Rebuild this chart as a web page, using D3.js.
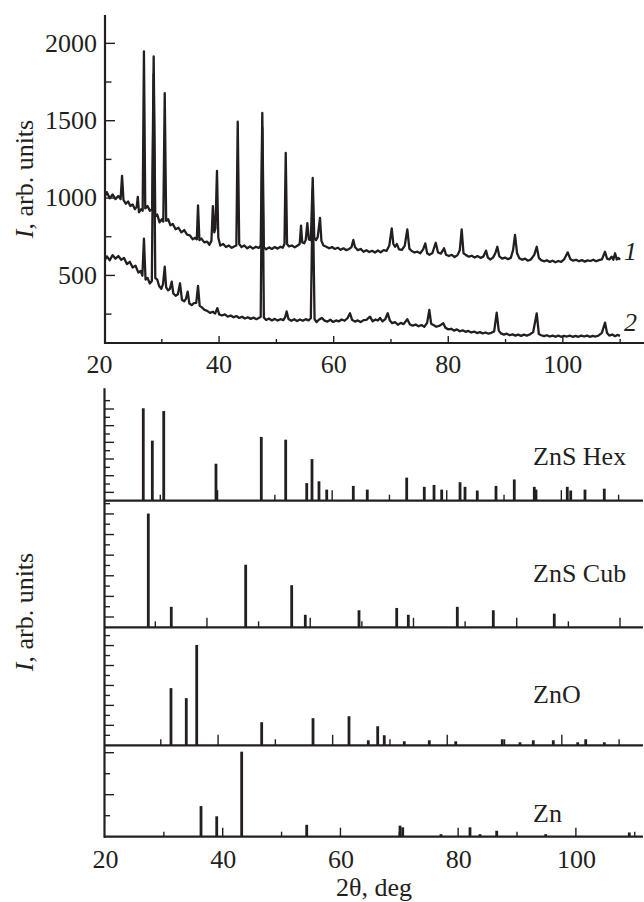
<!DOCTYPE html>
<html>
<head>
<meta charset="utf-8">
<script src="https://cdn.jsdelivr.net/npm/d3@7"></script>
<style>
  body { margin: 0; background: #fff; }
  svg text { font-family: "Liberation Serif", "Times New Roman", serif; fill: #231f20; }
</style>
</head>
<body>
<svg id="chart" width="644" height="902"></svg>
<script>
// measured pattern, sample 1 (2theta, I)
const curve1 = [[20.2,1010],[20.5,1035],[21.0,995],[21.5,1020],[22.0,990],[22.5,1010],[22.9,990],[23.15,1140],[23.4,985],[23.8,960],[24.2,975],[24.6,945],[25.0,955],[25.4,925],[25.7,940],[25.9,1005],[26.1,905],[26.5,925],[26.75,915],[26.97,1945],[27.2,930],[27.6,945],[28.0,915],[28.4,925],[28.67,1912],[28.95,880],[29.3,890],[29.7,840],[30.1,860],[30.35,845],[30.6,1675],[30.85,850],[31.2,860],[31.6,820],[32.0,830],[32.5,795],[33.0,805],[33.5,775],[34.0,790],[34.5,760],[35.0,755],[35.5,730],[35.9,740],[36.2,730],[36.41,950],[36.65,725],[37.0,735],[37.5,710],[38.0,715],[38.4,695],[38.75,720],[39.0,945],[39.25,775],[39.45,800],[39.72,1173],[39.95,740],[40.3,690],[40.8,700],[41.3,680],[41.8,690],[42.3,675],[42.8,685],[43.1,690],[43.34,1490],[43.6,700],[44.0,680],[44.5,690],[45.0,672],[45.5,684],[46.0,670],[46.5,682],[47.0,674],[47.35,690],[47.63,1547],[47.9,680],[48.3,665],[48.8,678],[49.3,668],[49.8,680],[50.3,670],[50.8,682],[51.2,676],[51.5,700],[51.72,1288],[51.95,700],[52.3,684],[52.8,690],[53.3,678],[53.8,690],[54.15,700],[54.39,818],[54.6,710],[54.95,705],[55.2,725],[55.49,835],[55.75,730],[56.1,725],[56.43,1127],[56.7,740],[57.0,725],[57.3,745],[57.7,868],[57.95,720],[58.3,690],[58.8,682],[59.3,672],[59.8,680],[60.3,668],[60.8,676],[61.3,662],[61.8,672],[62.3,660],[62.8,668],[63.2,680],[63.52,726],[63.8,680],[64.3,660],[64.8,668],[65.3,650],[65.8,660],[66.3,648],[66.8,656],[67.3,645],[67.8,658],[68.3,646],[68.8,660],[69.3,655],[69.8,690],[70.22,801],[70.5,700],[70.8,682],[71.1,700],[71.5,665],[72.0,662],[72.5,690],[72.94,794],[73.3,670],[73.7,655],[74.2,645],[74.7,650],[75.2,640],[75.7,665],[76.08,704],[76.4,640],[76.8,630],[77.3,640],[77.9,708],[78.3,645],[78.8,638],[79.35,672],[79.7,630],[80.2,622],[80.7,630],[81.2,616],[81.7,628],[82.1,660],[82.43,794],[82.75,640],[83.2,628],[83.7,618],[84.2,624],[84.7,612],[85.2,622],[85.7,610],[86.2,618],[86.68,657],[87.0,612],[87.4,600],[87.9,612],[88.3,640],[88.65,682],[89.0,620],[89.5,605],[90.0,612],[90.5,602],[91.0,610],[91.4,660],[91.74,758],[92.1,640],[92.5,608],[93.0,598],[93.5,605],[94.0,592],[94.5,600],[95.1,630],[95.53,682],[95.9,610],[96.3,596],[96.8,588],[97.3,595],[97.8,584],[98.3,592],[98.8,582],[99.3,590],[99.8,584],[100.3,600],[100.94,646],[101.4,602],[101.9,592],[102.4,598],[102.9,588],[103.4,596],[103.9,586],[104.4,594],[104.9,590],[105.4,598],[105.9,588],[106.4,596],[106.9,600],[107.45,650],[107.8,605],[108.2,600],[108.6,618],[108.9,598],[109.2,640],[109.5,600],[109.8,610],[110.07,598]];

// measured pattern, sample 2
const curve2 = [[20.2,600],[20.5,620],[21.0,595],[21.5,628],[22.0,605],[22.5,622],[23.0,598],[23.5,610],[24.0,570],[24.5,585],[25.0,548],[25.5,560],[26.0,515],[26.4,525],[26.7,495],[26.97,735],[27.25,470],[27.6,480],[28.0,445],[28.35,460],[28.67,1800],[28.95,480],[29.3,470],[29.6,430],[30.0,410],[30.3,440],[30.6,553],[30.85,420],[31.2,400],[31.5,410],[31.82,456],[32.1,380],[32.5,365],[32.9,375],[33.27,446],[33.6,340],[34.0,330],[34.3,345],[34.61,392],[34.9,315],[35.3,305],[35.7,318],[36.1,320],[36.41,429],[36.7,300],[37.1,290],[37.5,275],[38.0,268],[38.5,255],[39.0,262],[39.4,250],[39.78,285],[40.1,245],[40.6,238],[41.1,245],[41.6,230],[42.1,238],[42.6,226],[43.1,234],[43.6,222],[44.1,230],[44.6,218],[45.1,226],[45.6,216],[46.1,224],[46.6,214],[47.0,222],[47.35,230],[47.63,1450],[47.9,225],[48.3,208],[48.8,218],[49.3,206],[49.8,216],[50.3,205],[50.8,214],[51.3,208],[51.6,225],[51.88,264],[52.2,215],[52.7,204],[53.2,214],[53.7,202],[54.2,212],[54.7,204],[55.2,214],[55.7,206],[56.1,220],[56.43,1050],[56.75,215],[57.1,195],[57.5,210],[58.0,222],[58.5,205],[59.0,198],[59.5,210],[60.0,196],[60.5,206],[61.0,200],[61.5,212],[62.0,204],[62.5,220],[62.94,252],[63.3,210],[63.8,198],[64.3,206],[64.8,195],[65.3,208],[65.8,210],[66.43,230],[66.9,200],[67.4,212],[67.8,205],[68.18,222],[68.6,200],[69.1,215],[69.52,252],[69.9,205],[70.3,188],[70.8,195],[71.3,178],[71.8,190],[72.3,182],[72.94,214],[73.4,180],[73.9,172],[74.4,180],[74.9,168],[75.4,176],[75.9,165],[76.4,190],[76.78,274],[77.1,185],[77.5,176],[78.0,165],[78.6,172],[79.22,188],[79.6,158],[80.1,148],[80.6,152],[81.1,140],[81.6,148],[82.1,136],[82.6,142],[83.1,132],[83.6,138],[84.1,128],[84.6,134],[85.1,124],[85.6,130],[86.1,122],[86.6,128],[87.1,120],[87.6,126],[88.1,135],[88.54,256],[88.9,140],[89.3,122],[89.8,114],[90.3,120],[90.8,110],[91.3,116],[91.8,108],[92.3,114],[92.8,106],[93.3,114],[93.8,108],[94.3,115],[94.9,130],[95.53,252],[95.9,118],[96.3,110],[96.8,104],[97.3,110],[97.8,102],[98.3,108],[98.8,100],[99.3,108],[99.8,100],[100.3,106],[100.8,102],[101.3,108],[101.8,100],[102.3,106],[102.8,100],[103.3,108],[103.8,102],[104.3,108],[104.8,100],[105.3,106],[105.8,102],[106.3,108],[106.9,125],[107.45,192],[107.8,125],[108.2,108],[108.7,115],[109.2,104],[109.6,112],[110.07,106]];

// reference line patterns: [2theta, relative intensity %]
const hexBars = [[27.03,100],[28.61,65],[30.60,97],[39.72,40],[47.63,69],[51.89,66],[55.56,19],[56.48,45],[57.70,21],[59.05,12],[63.69,16],[66.13,12],[73.01,25],[76.08,15],[77.78,17],[79.12,12],[82.32,20],[83.19,15],[85.33,11],[88.60,16],[91.79,23],[95.28,15],[95.58,12],[101.04,15],[101.64,11],[104.13,12],[107.50,13]];
const cubBars = [[28.64,100],[33.09,18],[47.50,55],[56.41,37],[59.05,11],[69.45,15],[76.75,17],[79.0,11],[88.49,18],[95.46,15],[107.27,12]];
const znoBars = [[31.78,57],[34.45,47],[36.27,100],[47.61,23],[56.57,27],[62.85,29],[66.22,5],[67.86,19],[69.01,10],[72.50,4],[76.87,5],[81.48,4],[89.61,6],[92.70,3],[95.02,5],[98.51,5],[102.77,3],[104.17,6],[107.42,3]];
const znBars = [[36.31,36],[38.98,24],[43.22,100],[54.27,14],[70.12,13],[70.58,11],[77.08,3],[82.01,11],[83.71,3],[86.55,7],[94.87,3],[109.07,5]];

const topYMajor = [500, 1000, 1500, 2000];
const topYMinor = [250, 750, 1250, 1750];
const xLabels = [20, 40, 60, 80, 100];
const xMajor = [40, 60, 80, 100];
const xMinor = [30, 50, 70, 90, 110];

const ink = "#231f20";
const fontSize = 26;
const svg = d3.select("#chart");

// ---------- top panel ----------
const xTop = d3.scaleLinear().domain([20, 114.2]).range([104, 643.7]);
const yTop = d3.scaleLinear().domain([60, 2180]).range([343, 15]);

function styleAxis(g) {
  g.attr("color", ink).attr("font-size", fontSize)
    .attr("font-family", '"Liberation Serif", "Times New Roman", serif');
  g.select(".domain").remove();
  g.selectAll(".tick line").attr("stroke-width", 1.4);
}

svg.append("g").attr("transform", "translate(0,343)")
  .call(d3.axisBottom(xTop).tickValues(xLabels).tickSize(-7).tickPadding(12))
  .call(styleAxis)
  .call(g => g.selectAll(".tick").filter(d => d === 20).select("line").remove())
  .call(g => g.selectAll(".tick").filter(d => d === 20).select("text").attr("x", -5));
svg.append("g").attr("transform", "translate(0,343)")
  .call(d3.axisBottom(xTop).tickValues(xMinor).tickSize(-4).tickFormat(""))
  .call(styleAxis);
svg.append("g").attr("transform", "translate(105,0)")
  .call(d3.axisLeft(yTop).tickValues(topYMajor).tickSize(-10).tickPadding(8).tickFormat(d3.format("d")))
  .call(styleAxis);
svg.append("g").attr("transform", "translate(105,0)")
  .call(d3.axisLeft(yTop).tickValues(topYMinor).tickSize(-6.5).tickFormat(""))
  .call(styleAxis);

svg.append("path").attr("d", "M105,15V343H644")
  .attr("fill", "none").attr("stroke", ink).attr("stroke-width", 2.2);

const line = d3.line().x(d => xTop(d[0])).y(d => yTop(d[1]));
[curve1, curve2].forEach(c => {
  svg.append("path").datum(c).attr("d", line)
    .attr("fill", "none").attr("stroke", ink)
    .attr("stroke-width", 2.3).attr("stroke-linejoin", "round");
});

svg.append("text").attr("x", 624).attr("y", 260).attr("font-size", fontSize)
  .attr("font-style", "italic").text("1");
svg.append("text").attr("x", 624).attr("y", 331).attr("font-size", fontSize)
  .attr("font-style", "italic").text("2");

function yLabel(cx, cy) {
  const t = svg.append("text").attr("transform", `translate(${cx},${cy}) rotate(-90)`)
    .attr("text-anchor", "middle").attr("font-size", fontSize);
  t.append("tspan").attr("font-style", "italic").text("I");
  t.append("tspan").text(", arb. units");
}
yLabel(33, 179);

// ---------- bottom stacked reference panels ----------
const panels = [
  {name: "ZnS Hex", bars: hexBars, top: 388.3, base: 500.7, yMax: 121.6, yStep: 9.02, yN: 12, longOdd: true,
   x0: 103.0, k: 5.729, major: xMajor, minor: xMinor, majLen: 10.5, minLen: 6, labelY: 465},
  {name: "ZnS Cub", bars: cubBars, top: 500.7, base: 627.3, yMax: 111.3, yStep: 9.06, yN: 12, longOdd: true,
   x0: 103.7, k: 5.163, major: [40, 60, 80, 100, 120], minor: xMinor, majLen: 9.5, minLen: 6, labelY: 581.5},
  {name: "ZnO", bars: znoBars, top: 627.3, base: 745.3, yMax: 117.6, yStep: 9.94, yN: 11, longOdd: false,
   x0: 103.5, k: 5.729, major: xMajor, minor: xMinor, majLen: 10.5, minLen: 6, labelY: 703},
  {name: "Zn", bars: znBars, top: 745.3, base: 836.7, yMax: 107.5, yStep: 24.7, yN: 4, longOdd: false,
   x0: 105, k: 5.886, major: xMajor, minor: xMinor, majLen: 9, minLen: 5, labelY: 821.5}
];

panels.forEach(p => {
  const xs = d3.scaleLinear().domain([20, 120]).range([p.x0, p.x0 + 100 * p.k]);
  const ys = d3.scaleLinear().domain([0, p.yMax]).range([p.base, p.top]);
  const g = svg.append("g");

  // baseline ticks (inside, pointing up)
  g.selectAll("line.maj").data(p.major).join("line")
    .attr("x1", d => xs(d)).attr("x2", d => xs(d))
    .attr("y1", p.base).attr("y2", p.base - p.majLen)
    .attr("stroke", ink).attr("stroke-width", 1.4);
  g.selectAll("line.min").data(p.minor).join("line")
    .attr("x1", d => xs(d)).attr("x2", d => xs(d))
    .attr("y1", p.base).attr("y2", p.base - p.minLen)
    .attr("stroke", ink).attr("stroke-width", 1.4);

  // y ticks
  const yt = d3.range(1, p.yN + 1);
  g.selectAll("line.yt").data(yt).join("line")
    .attr("x1", 105).attr("x2", d => 105 + (((d % 2 === 1) === p.longOdd) ? 9 : 5))
    .attr("y1", d => ys(d * p.yStep)).attr("y2", d => ys(d * p.yStep))
    .attr("stroke", ink).attr("stroke-width", 1.4);

  // bars
  g.selectAll("rect").data(p.bars).join("rect")
    .attr("x", d => xs(d[0]) - 1.4).attr("width", 2.8)
    .attr("y", d => ys(d[1])).attr("height", d => p.base - ys(d[1]))
    .attr("fill", ink);

  // baseline
  g.append("line").attr("x1", 104).attr("x2", 643)
    .attr("y1", p.base).attr("y2", p.base)
    .attr("stroke", ink).attr("stroke-width", 2.2);

  g.append("text").attr("x", 533).attr("y", p.labelY)
    .attr("font-size", fontSize).text(p.name);
});

svg.append("line").attr("x1", 104.5).attr("x2", 104.5)
  .attr("y1", 388.3).attr("y2", 837.8)
  .attr("stroke", ink).attr("stroke-width", 2.2);

// bottom axis labels (Zn panel scale)
const xBot = d3.scaleLinear().domain([20, 120]).range([105, 105 + 100 * 5.886]);
svg.append("g").attr("transform", "translate(0,836.7)")
  .call(d3.axisBottom(xBot).tickValues(xLabels).tickSize(0).tickPadding(13))
  .call(styleAxis);

svg.append("text").attr("x", 374).attr("y", 896).attr("text-anchor", "middle")
  .attr("font-size", fontSize).text("2θ, deg");

yLabel(33, 612);
</script>
</body>
</html>
